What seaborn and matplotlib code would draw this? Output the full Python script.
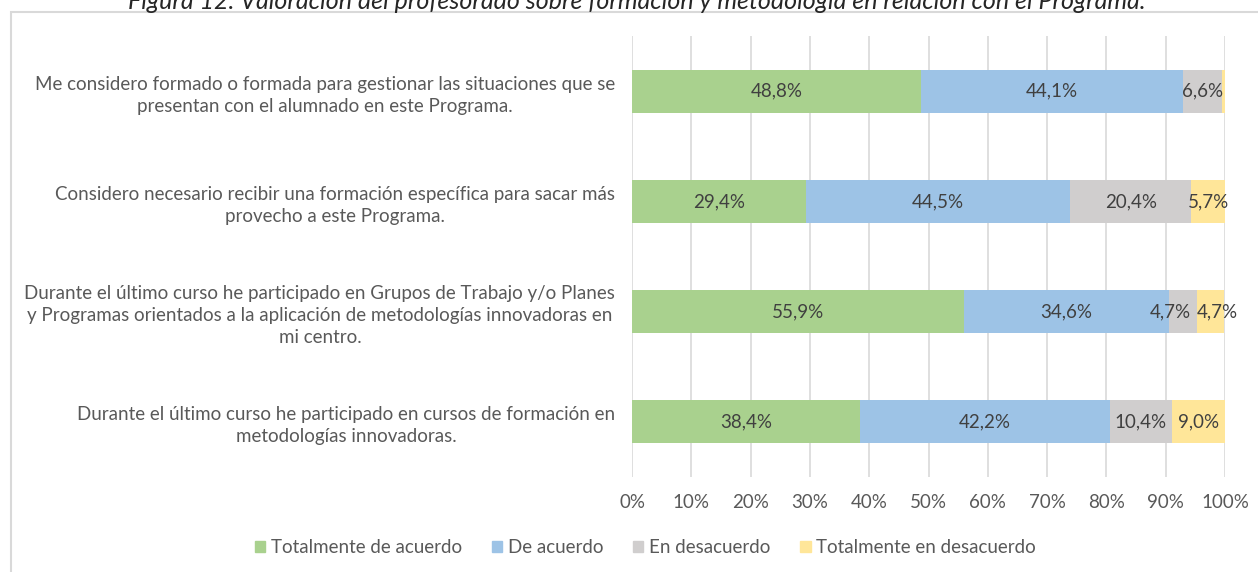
import matplotlib
matplotlib.use("Agg")
import matplotlib.pyplot as plt
import matplotlib.patches as mpatches
from matplotlib.ticker import FuncFormatter, MultipleLocator
import seaborn as sns
import numpy as np
import pandas as pd

categories = [
    "Me considero formado o formada para gestionar las situaciones que se\npresentan con el alumnado en este Programa.",
    "Considero necesario recibir una formación específica para sacar más\nprovecho a este Programa.",
    "Durante el último curso he participado en Grupos de Trabajo y/o Planes\ny Programas orientados a la aplicación de metodologías innovadoras en\nmi centro.",
    "Durante el último curso he participado en cursos de formación en\nmetodologías innovadoras.",
]
series_names = ["Totalmente de acuerdo", "De acuerdo", "En desacuerdo", "Totalmente en desacuerdo"]
totalmente_de_acuerdo = [48.8, 29.4, 55.9, 38.4]
de_acuerdo = [44.1, 44.5, 34.6, 42.2]
en_desacuerdo = [6.6, 20.4, 4.7, 10.4]
totalmente_en_desacuerdo = [0.5, 5.7, 4.7, 9.0]
colors = ["#A9D18E", "#9DC3E6", "#D0CECE", "#FFE699"]
title = "Figura 12. Valoración del profesorado sobre formación y metodología en relación con el Programa."

sns.set_theme(style="white")
plt.rcParams["font.family"] = ["Lato", "DejaVu Sans"]
FS = 13.5

values = np.array([totalmente_de_acuerdo, de_acuerdo, en_desacuerdo, totalmente_en_desacuerdo])
cum = np.cumsum(values, axis=0)

fig = plt.figure(figsize=(12.58, 5.72), dpi=100)
ax = fig.add_axes([0.5024, 0.166, 0.4714, 0.771])

for i in range(len(series_names) - 1, -1, -1):
    df = pd.DataFrame({"cat": categories, "val": cum[i]})
    sns.barplot(data=df, x="val", y="cat", orient="h", color=colors[i],
                width=0.39, saturation=1, ax=ax, zorder=2, linewidth=0)

ax.set_xlim(0, 100)
ax.set_ylim(3.5, -0.5)
ax.xaxis.set_major_locator(MultipleLocator(10))
ax.xaxis.set_major_formatter(FuncFormatter(lambda v, p: f"{int(round(v))}%"))
ax.grid(axis="x", color="#D9D9D9", linewidth=1.2, zorder=0)
ax.grid(axis="y", visible=False)
ax.set_axisbelow(True)
for s in ax.spines.values():
    s.set_visible(False)
ax.set_xlabel("")
ax.set_ylabel("")
ax.tick_params(axis="x", length=0, pad=12, labelsize=FS, labelcolor="#595959")
ax.tick_params(axis="y", length=0, pad=12, labelsize=FS, labelcolor="#595959")
for lbl in ax.get_yticklabels():
    lbl.set_multialignment("center")
    lbl.set_linespacing(1.36)

# data labels
for j in range(len(categories)):
    for i in range(len(series_names)):
        v = values[i, j]
        if v < 1:
            continue
        start = cum[i, j] - v
        end = cum[i, j]
        txt = f"{v:.1f}".replace(".", ",") + "%"
        nxt = values[i + 1, j] if i + 1 < len(series_names) else 0
        prv = values[i - 1, j] if i > 0 else 100
        if v < 6 and 1 <= nxt < 6:
            ax.text(end - 0.9, j, txt, ha="right", va="center", fontsize=FS, color="#404040", zorder=5)
        elif v < 6 and prv < 6:
            ax.text(start, j, txt, ha="left", va="center", fontsize=FS, color="#404040", zorder=5)
        else:
            ax.text((start + end) / 2, j, txt, ha="center", va="center", fontsize=FS, color="#404040", zorder=5)

handles = [mpatches.Patch(color=c, label=n) for c, n in zip(colors, series_names)]
fig.legend(handles=handles, loc="center", bbox_to_anchor=(0.513, 0.042), ncol=4,
           frameon=False, fontsize=FS, handlelength=0.55, handleheight=0.55,
           handletextpad=0.3, columnspacing=1.6, labelcolor="#595959")

# outer border
fig.patches.append(mpatches.Rectangle((11 / 1258, -0.1), 1.2, 1 - 12 / 572 + 0.1,
                                      transform=fig.transFigure, fill=False,
                                      edgecolor="#D9D9D9", linewidth=1.5))
fig.text(0.506, 1 - 9 / 572, title, ha="center", va="baseline", fontsize=18,
         style="italic", color="#262626")

fig.savefig("out.png", dpi=100)
